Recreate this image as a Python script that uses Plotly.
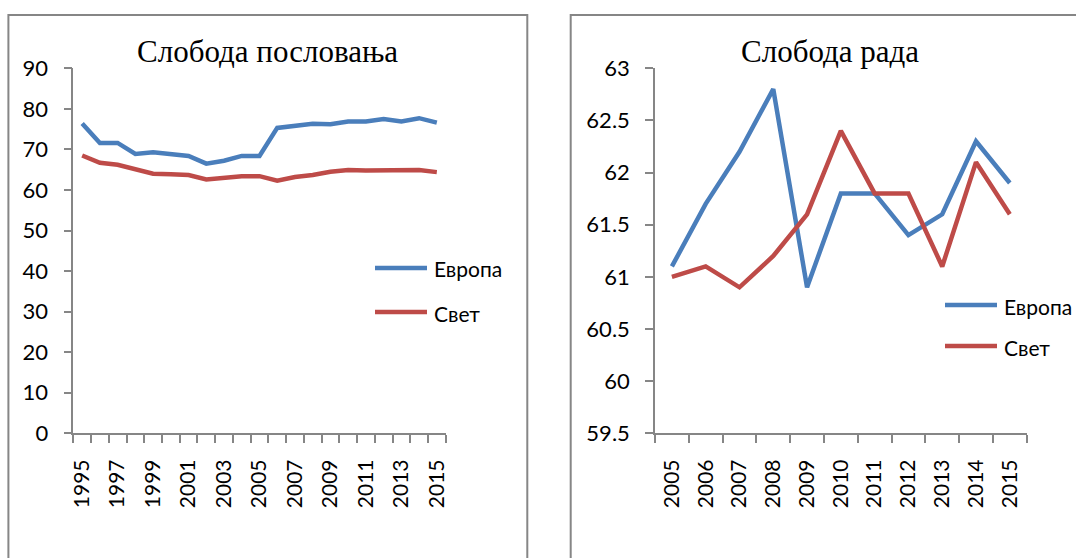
import plotly.graph_objects as go

# ---- data: left panel (Слобода пословања) ----
years_left = list(range(1995, 2016))
europe_business = [76.4, 71.6, 71.6, 68.9, 69.3, 68.8, 68.4, 66.5, 67.2, 68.4, 68.4,
                   75.3, 75.7, 76.3, 76.2, 76.9, 76.9, 77.5, 76.9, 77.7, 76.6]
world_business = [68.5, 66.7, 66.2, 65.0, 64.0, 63.9, 63.7, 62.6, 63.1, 63.4, 63.4,
                  62.3, 63.2, 63.7, 64.5, 64.9, 64.8, 64.9, 64.8, 64.9, 64.4]
left_xtick_years = [1995, 1997, 1999, 2001, 2003, 2005, 2007, 2009, 2011, 2013, 2015]
left_yticks = [0, 10, 20, 30, 40, 50, 60, 70, 80, 90]

# ---- data: right panel (Слобода рада) ----
years_right = list(range(2005, 2016))
europe_labor = [61.1, 61.7, 62.2, 62.8, 60.9, 61.8, 61.8, 61.4, 61.6, 62.3, 61.9]
world_labor = [61.0, 61.1, 60.9, 61.2, 61.6, 62.4, 61.8, 61.8, 61.1, 62.1, 61.6]
right_yticks = [59.5, 60, 60.5, 61, 61.5, 62, 62.5, 63]
right_yticklabels = ["59.5", "60", "60.5", "61", "61.5", "62", "62.5", "63"]

series_names = ["Европа", "Свет"]
titles = ["Слобода пословања", "Слобода рада"]

BLUE = "#4A7EBB"
RED = "#BE4B48"
GRAY = "#868686"
FONT_FAMILY = "Lato, Liberation Sans, sans-serif"
SERIES_COLORS = [BLUE, RED]

W, H = 1076, 558
ydom = [1 - 433.3 / H, 1 - 68.3 / H]

fig = go.Figure()
for name, vals, color in zip(series_names, [europe_business, world_business], SERIES_COLORS):
    fig.add_trace(go.Scatter(x=years_left, y=vals, mode="lines", name=name,
                             line=dict(color=color, width=4.5), xaxis="x", yaxis="y",
                             showlegend=False))
for name, vals, color in zip(series_names, [europe_labor, world_labor], SERIES_COLORS):
    fig.add_trace(go.Scatter(x=years_right, y=vals, mode="lines", name=name,
                             line=dict(color=color, width=4.5), xaxis="x2", yaxis="y2",
                             showlegend=False))

common_x = dict(showline=True, linecolor=GRAY, linewidth=1.5, showgrid=False, zeroline=False,
                ticks="", tickangle=-90,
                tickfont=dict(family=FONT_FAMILY, size=21, color="#000"),
                ticklabelstandoff=16, automargin=False)
common_y = dict(showline=True, linecolor=GRAY, linewidth=1.5, showgrid=False, zeroline=False,
                ticks="outside", ticklen=8, tickcolor=GRAY, tickwidth=1.5,
                tickfont=dict(family=FONT_FAMILY, size=22, color="#000"),
                ticklabelstandoff=11, automargin=False)

# legend drawn as line samples + text (positions in pixels)
legend_specs = [
    # (line x0, line x1, text x, [y per series])
    (375, 427, 432, [268, 312]),
    (945, 997, 1002, [305, 346]),
]
shapes = [
    dict(type="rect", xref="paper", yref="paper", x0=8.4 / W, x1=527.3 / W,
         y0=-0.1, y1=1 - 15 / H, line=dict(color=GRAY, width=2), fillcolor="rgba(0,0,0,0)"),
    dict(type="rect", xref="paper", yref="paper", x0=570.7 / W, x1=1.1,
         y0=-0.1, y1=1 - 15 / H, line=dict(color=GRAY, width=2), fillcolor="rgba(0,0,0,0)"),
]
annotations = [
    dict(text=titles[0], xref="paper", yref="paper", x=267 / W, y=1 - 52 / H,
         xanchor="center", yanchor="middle", showarrow=False,
         font=dict(family="Liberation Serif, Times New Roman, serif", size=31, color="#000")),
    dict(text=titles[1], xref="paper", yref="paper", x=830 / W, y=1 - 52 / H,
         xanchor="center", yanchor="middle", showarrow=False,
         font=dict(family="Liberation Serif, Times New Roman, serif", size=31, color="#000")),
]
for lx0, lx1, tx, ys in legend_specs:
    for name, color, yy in zip(series_names, SERIES_COLORS, ys):
        shapes.append(dict(type="line", xref="paper", yref="paper", x0=lx0 / W, x1=lx1 / W,
                           y0=1 - yy / H, y1=1 - yy / H,
                           line=dict(color=color, width=4.5)))
        annotations.append(dict(text=name, xref="paper", yref="paper", x=tx / W, y=1 - (yy + 1) / H,
                                xanchor="left", yanchor="middle", showarrow=False,
                                font=dict(family=FONT_FAMILY, size=21, color="#000")))

fig.update_layout(
    width=W, height=H,
    margin=dict(l=0, r=0, t=0, b=0, autoexpand=False),
    paper_bgcolor="white", plot_bgcolor="white",
    xaxis=dict(domain=[73.3 / W, 445.7 / W], range=[1994.5, 2015.5],
               tickvals=left_xtick_years, ticktext=[str(v) for v in left_xtick_years],
               minor=dict(ticks="outside", tick0=1994.5, dtick=1, ticklen=8,
                          tickcolor=GRAY, tickwidth=1.5),
               anchor="y", **common_x),
    yaxis=dict(domain=ydom, range=[0, 90], tickvals=left_yticks,
               ticktext=[str(v) for v in left_yticks], anchor="x", **common_y),
    xaxis2=dict(domain=[655 / W, 1026.7 / W], range=[2004.5, 2015.5],
                tickvals=years_right, ticktext=[str(v) for v in years_right],
                minor=dict(ticks="outside", tick0=2004.5, dtick=1, ticklen=8,
                           tickcolor=GRAY, tickwidth=1.5),
                anchor="y2", **common_x),
    yaxis2=dict(domain=ydom, range=[59.5, 63], tickvals=right_yticks,
                ticktext=right_yticklabels, anchor="x2", **common_y),
    shapes=shapes,
    annotations=annotations,
)

fig.write_html("out.html", post_script="document.body.style.margin='0';",
               config={"displayModeBar": False})
